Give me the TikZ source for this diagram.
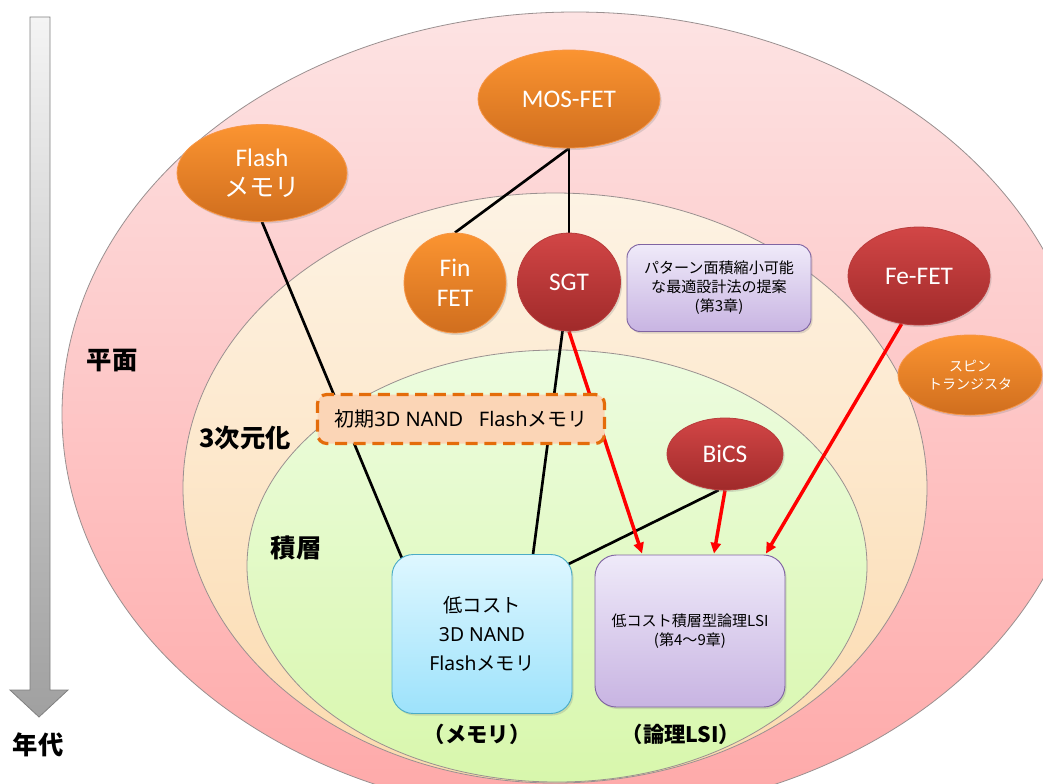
\documentclass[tikz,border=0pt]{standalone}
\usepackage{fontspec}
\setmainfont{Noto Sans}
\newfontfamily\jp{Noto Sans CJK JP}
\newfontfamily\carl{Carlito}
\usetikzlibrary{shapes.geometric,arrows.meta,calc,shadows}
\pgfdeclarelayer{bg}
\pgfdeclarelayer{edges}
\pgfsetlayers{bg,edges,main}
\definecolor{orgT}{HTML}{FB9431}
\definecolor{orgB}{HTML}{D06E1E}
\definecolor{orgD}{HTML}{F79646}
\definecolor{redT}{HTML}{D24646}
\definecolor{redB}{HTML}{A02A2A}
\definecolor{redD}{HTML}{B83C3C}
\definecolor{pinkT}{HTML}{FDE3E3}
\definecolor{pinkB}{HTML}{FEA8A8}
\definecolor{beigeT}{HTML}{FDF3E4}
\definecolor{beigeB}{HTML}{FCDAAE}
\definecolor{greenT}{HTML}{EDFCE0}
\definecolor{greenB}{HTML}{D8F7AC}
\definecolor{purT}{HTML}{EFEAF9}
\definecolor{purB}{HTML}{C8B4E2}
\definecolor{purD}{HTML}{8064A2}
\definecolor{bluT}{HTML}{DEF7FF}
\definecolor{bluB}{HTML}{9DE2FB}
\definecolor{bluD}{HTML}{4BACC6}
\definecolor{earlyF}{HTML}{FBD5B6}
\definecolor{earlyD}{HTML}{E46C0A}
\definecolor{arrT}{HTML}{F4F4F4}
\definecolor{arrB}{HTML}{A0A0A0}
\definecolor{ringD}{HTML}{9A9090}
\begin{document}
\begin{tikzpicture}[x=0.75pt,y=-0.75pt,
  shad/.style={drop shadow={opacity=0.25,shadow xshift=1.2pt,shadow yshift=-1.5pt}},
  orangenode/.style={ellipse,shad,top color=orgT,bottom color=orgB,draw=orgD,line width=0.6pt,text=white,inner sep=0pt,align=center,font=\carl\fontsize{19}{22.5}\selectfont},
  rednode/.style={ellipse,shad,top color=redT,bottom color=redB,draw=redD,line width=0.6pt,text=white,inner sep=0pt,align=center,font=\carl\fontsize{19}{22.5}\selectfont},
  purbox/.style={rectangle,rounded corners=10pt,shad,top color=purT,bottom color=purB,draw=purD,line width=0.7pt,inner sep=0pt,align=center,font=\jp\fontsize{11.3}{14.2}\selectfont},
  blubox/.style={rectangle,rounded corners=16pt,shad,top color=bluT,bottom color=bluB,draw=bluD,line width=0.7pt,inner sep=0pt,align=center,font=\fontsize{14.5}{21.8}\selectfont},
  earlybox/.style={rectangle,rounded corners=7pt,fill=earlyF,draw=earlyD,dash pattern=on 9pt off 5pt,line width=2.4pt,inner sep=0pt,align=center,font=\fontsize{15}{18}\selectfont},
  lbl/.style={font=\jp\bfseries\fontsize{19}{22}\selectfont,inner sep=0pt},
  sublbl/.style={font=\jp\bfseries\fontsize{16}{19}\selectfont,inner sep=0pt},
  ring/.style={draw=ringD,line width=0.6pt},
  conn/.style={line width=2pt,black},
  redarr/.style={line width=2.6pt,red,-{Triangle[length=8pt,width=7.5pt]}}
]
\useasboundingbox (0,0) rectangle (1043,783);
\begin{pgfonlayer}{bg}
\begin{scope}
\clip (0,0) rectangle (1043,783);
\path[ring,top color=pinkT,bottom color=pinkB] (575,414) ellipse [x radius=513,y radius=402];
\path[ring,top color=beigeT,bottom color=beigeB] (555,488) ellipse [x radius=372,y radius=295];
\path[ring,top color=greenT,bottom color=greenB] (557,566) ellipse [x radius=310,y radius=216];
\end{scope}
% time arrow
\path[draw=gray,line width=0.6pt,top color=arrT,bottom color=arrB]
  (30,17) -- (50,17) -- (50,690) -- (68,690) -- (39,717) -- (10,690) -- (30,690) -- cycle;
\end{pgfonlayer}

% labels
\node[lbl] (heimen) at (112,361) {平面};
\node[lbl] (sanji) at (245,438) {3次元化};
\node[lbl] (sekiso) at (296,548) {積層};
\node[lbl] (nendai) at (38,745) {年代};
\node[sublbl] (memlbl) at (477,734) {（メモリ）};
\node[sublbl] (logiclbl) at (681,734) {（論理LSI）};

% nodes
\node[orangenode,minimum width=182*0.75pt,minimum height=98*0.75pt] (MOS) at (569,99) {MOS-FET};
\node[orangenode,minimum width=170*0.75pt,minimum height=97*0.75pt] (Flash) at (262,173) {Flash\\{\jp メモリ}};
\node[orangenode,minimum width=102*0.75pt,minimum height=100*0.75pt] (Fin) at (455,283) {Fin\\FET};
\node[rednode,minimum width=103*0.75pt,minimum height=98*0.75pt] (SGT) at (569,282) {SGT};
\node[purbox,minimum width=184*0.75pt,minimum height=87*0.75pt] (Pat) at (719,288) {パターン面積縮小可能\\な最適設計法の提案\\(第3章)};
\node[rednode,minimum width=142*0.75pt,minimum height=98*0.75pt] (FeFET) at (919,276) {Fe-FET};
\node[orangenode,minimum width=144*0.75pt,minimum height=80*0.75pt,font=\jp\fontsize{10.5}{14}\selectfont] (Spin) at (970,375) {スピン\\トランジスタ};
\node[rednode,minimum width=116*0.75pt,minimum height=72*0.75pt] (BiCS) at (725,454) {BiCS};
\node[blubox,minimum width=180*0.75pt,minimum height=159*0.75pt] (Mem) at (482,634) {{\jp 低コスト}\\3D NAND\\Flash{\jp メモリ}};
\node[purbox,minimum width=190*0.75pt,minimum height=152*0.75pt,rounded corners=16pt] (Logic) at (690,631) {低コスト積層型論理LSI\\(第4～9章)};
\node[earlybox,minimum width=287*0.75pt,minimum height=49*0.75pt] (Early) at (461,419) {{\jp 初期}3D NAND\ \ \ Flash{\jp メモリ}};

% connectors
\begin{pgfonlayer}{edges}
\draw[conn] (MOS.south) -- (Fin.north);
\draw[conn] (MOS.south) -- (SGT.north);
\draw[conn] (Flash.south) -- ($(Mem.north west)+(12,8)$);
\draw[conn] (SGT.center) -- ($(Mem.north)+(50,8)$);
\draw[conn] (BiCS.260) -- ($(Mem.north east)+(-8,12)$);
\draw[redarr] (SGT.south) -- ($(Logic.north)+(-48,-1)$);
\draw[redarr] (BiCS.south) -- ($(Logic.north)+(24,-1)$);
\draw[redarr] (FeFET.250) -- ($(Logic.north)+(76,-1)$);
\end{pgfonlayer}
\end{tikzpicture}
\end{document}
